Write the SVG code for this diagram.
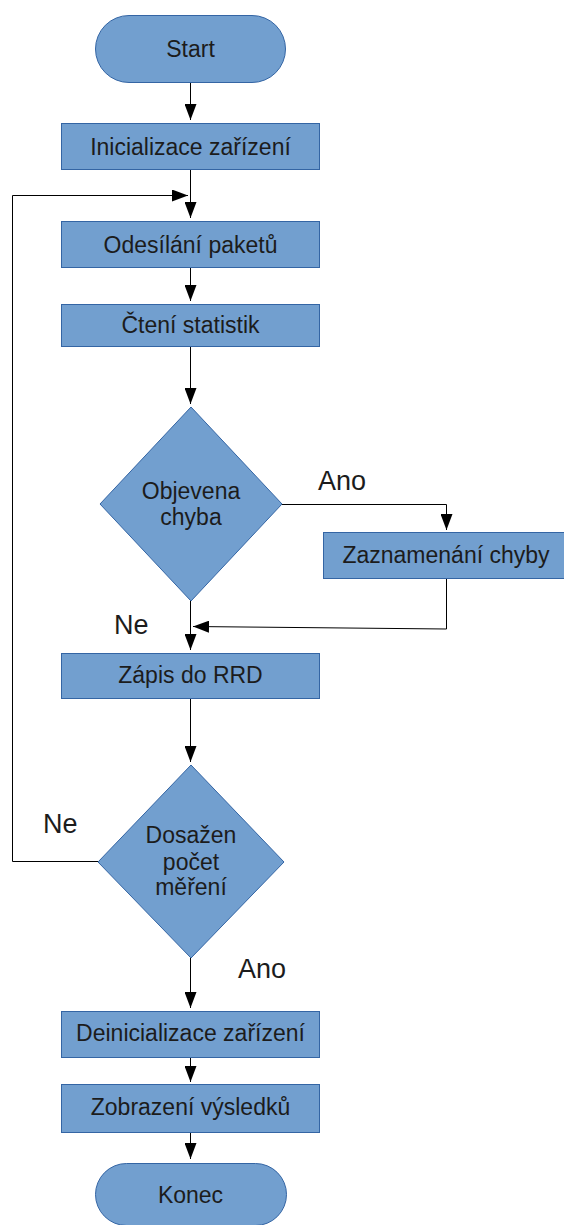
<svg xmlns="http://www.w3.org/2000/svg" width="564" height="1225" viewBox="0 0 564 1225">
<defs>
<style>
.n{fill:#729fcf;stroke:#3465a4;stroke-width:1}
.t{font-family:"Liberation Sans",Arial,sans-serif;font-size:23px;fill:#1c1c1c;text-anchor:middle}
.l{font-family:"Liberation Sans",Arial,sans-serif;font-size:27px;fill:#1c1c1c}
.c{fill:none;stroke:#000;stroke-width:1}
</style>
<marker id="a" markerUnits="userSpaceOnUse" markerWidth="16" markerHeight="12" viewBox="0 0 16 12" refX="16" refY="6" orient="auto">
<path d="M0,0 L16,6 L0,12 z" fill="#000"/>
</marker>
</defs>
<rect width="564" height="1225" fill="#fff"/>
<g id="connectors">
<path class="c" d="M190.5,82 V120" marker-end="url(#a)"/>
<path class="c" d="M190.5,169 V218" marker-end="url(#a)"/>
<path class="c" d="M190.5,267 V301" marker-end="url(#a)"/>
<path class="c" d="M190.5,346 V404" marker-end="url(#a)"/>
<path class="c" d="M282,504.5 H446.5 V530" marker-end="url(#a)"/>
<path class="c" d="M446.5,578 V629 L193,626.5" marker-end="url(#a)"/>
<path class="c" d="M190.5,601 V650" marker-end="url(#a)"/>
<path class="c" d="M190.5,698 V762" marker-end="url(#a)"/>
<path class="c" d="M98,861.5 H12.5 V195.5 H188" marker-end="url(#a)"/>
<path class="c" d="M190.5,958 V1008" marker-end="url(#a)"/>
<path class="c" d="M190.5,1057 V1082" marker-end="url(#a)"/>
<path class="c" d="M190.5,1132 V1159" marker-end="url(#a)"/>
</g>
<g id="start"><rect class="n" x="95.5" y="15.5" width="190" height="67" rx="33.5"/><text class="t" x="190.5" y="57">Start</text></g>
<g id="init"><rect class="n" x="61.5" y="123.5" width="258" height="46"/><text class="t" x="190.5" y="155">Inicializace zařízení</text></g>
<g id="send"><rect class="n" x="61.5" y="221.5" width="258" height="46"/><text class="t" x="190.5" y="253">Odesílání paketů</text></g>
<g id="read"><rect class="n" x="61.5" y="304.5" width="258" height="42"/><text class="t" x="190.5" y="333">Čtení statistik</text></g>
<g id="dec1"><polygon class="n" points="191,407 282,504 191,601 100,504"/><text class="t" x="191" y="499">Objevena</text><text class="t" x="191" y="525">chyba</text></g>
<g id="log"><rect class="n" x="323.5" y="532.5" width="246" height="46"/><text class="t" x="446" y="563">Zaznamenání chyby</text></g>
<g id="rrd"><rect class="n" x="61.5" y="653.5" width="258" height="45"/><text class="t" x="190.5" y="683">Zápis do RRD</text></g>
<g id="dec2"><polygon class="n" points="191,765 284,862 191,958 98,862"/><text class="t" x="191" y="843">Dosažen</text><text class="t" x="191" y="870">počet</text><text class="t" x="191" y="895">měření</text></g>
<g id="deinit"><rect class="n" x="61.5" y="1011.5" width="258" height="46"/><text class="t" x="190.5" y="1041">Deinicializace zařízení</text></g>
<g id="show"><rect class="n" x="61.5" y="1084.5" width="258" height="48"/><text class="t" x="190.5" y="1115">Zobrazení výsledků</text></g>
<g id="end"><rect class="n" x="95.5" y="1163.5" width="191" height="62" rx="31"/><text class="t" x="190.5" y="1203">Konec</text></g>
<g id="labels">
<text class="l" x="318" y="490">Ano</text>
<text class="l" x="114" y="634">Ne</text>
<text class="l" x="43" y="833">Ne</text>
<text class="l" x="238" y="978">Ano</text>
</g>
</svg>
